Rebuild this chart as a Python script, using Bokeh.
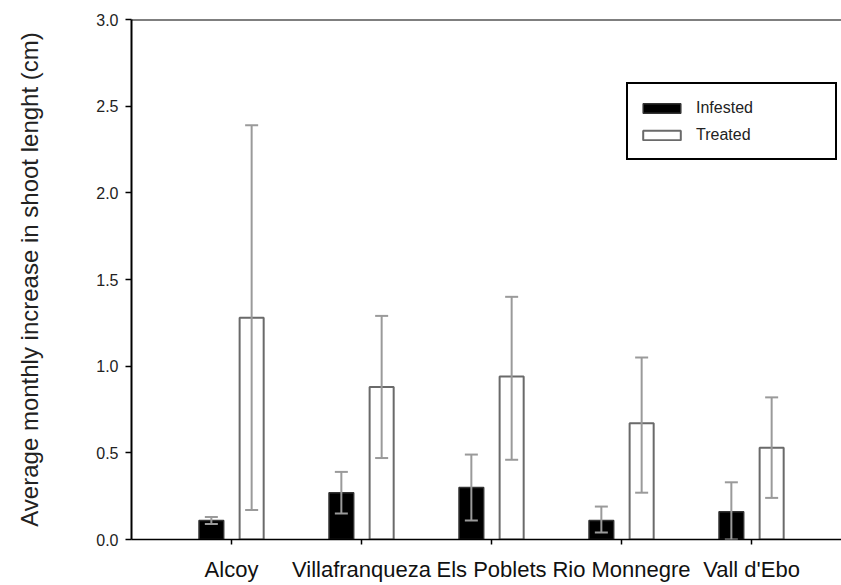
from bokeh.plotting import figure
from bokeh.models import (ColumnDataSource, Whisker, FixedTicker, Span, Legend,
                          LegendItem, TeeHead, Range1d, PrintfTickFormatter)
from bokeh.transform import dodge
from bokeh.embed import file_html
from bokeh.resources import INLINE

# ---- data ----
sites = ["Alcoy", "Villafranqueza", "Els Poblets", "Rio Monnegre", "Vall d'Ebo"]
infested = [0.11, 0.27, 0.30, 0.11, 0.16]
infested_lower = [0.09, 0.15, 0.11, 0.04, 0.00]
infested_upper = [0.13, 0.39, 0.49, 0.19, 0.33]
treated = [1.28, 0.88, 0.94, 0.67, 0.53]
treated_lower = [0.17, 0.47, 0.46, 0.27, 0.24]
treated_upper = [2.39, 1.29, 1.40, 1.05, 0.82]
y_ticks = [0.0, 0.5, 1.0, 1.5, 2.0, 2.5, 3.0]
y_title = "Average monthly increase in shoot lenght (cm)"

xs = list(range(1, len(sites) + 1))
src = ColumnDataSource(dict(x=xs, infested=infested, inf_lo=infested_lower,
                            inf_hi=infested_upper, treated=treated,
                            tr_lo=treated_lower, tr_hi=treated_upper))

FONT = "Liberation Sans"

p = figure(width=841, height=585, x_range=Range1d(0.2308, 5.6923),
           y_range=Range1d(0, 3.0), output_backend="svg", toolbar_location=None,
           min_border_left=131, min_border_right=0, min_border_top=19,
           min_border_bottom=46)
p.outline_line_color = None
p.xgrid.visible = False
p.ygrid.visible = False
p.background_fill_color = "white"
p.border_fill_color = "white"

OFF = 0.155
r1 = p.vbar(x=dodge("x", -OFF, range=p.x_range), top="infested", width=0.19,
            source=src, fill_color="black", line_color="#333333", line_width=1.5)
r2 = p.vbar(x=dodge("x", OFF, range=p.x_range), top="treated", width=0.185,
            source=src, fill_color="white", line_color="#6a6a6a", line_width=2)

EC = "#9a9a9a"
for base, lo, hi in [(-OFF, "inf_lo", "inf_hi"), (OFF, "tr_lo", "tr_hi")]:
    w = Whisker(base=dodge("x", base, range=p.x_range), lower=lo, upper=hi,
                source=src, line_color=EC, line_width=2, level="overlay",
                upper_head=TeeHead(size=13, line_color=EC, line_width=2),
                lower_head=TeeHead(size=13, line_color=EC, line_width=2))
    p.add_layout(w)

p.add_layout(Span(location=3.0, dimension="width", line_color="black", line_width=2))

# y axis
ya = p.yaxis[0]
ya.ticker = FixedTicker(ticks=y_ticks)
ya.formatter = PrintfTickFormatter(format="%.1f")
ya.axis_line_width = 2
ya.axis_line_color = "black"
ya.major_tick_out = 6
ya.major_tick_in = 0
ya.major_tick_line_width = 1.5
ya.minor_tick_line_color = None
ya.major_label_text_font = FONT
ya.major_label_text_font_size = "16px"
ya.major_label_text_color = "#222222"
ya.major_label_standoff = 7
ya.axis_label = y_title
ya.axis_label_text_font = FONT
ya.axis_label_text_font_size = "24px"
ya.axis_label_text_font_style = "normal"
ya.axis_label_text_color = "#222222"
ya.axis_label_standoff = 50

# x axis
xa = p.xaxis[0]
xa.ticker = FixedTicker(ticks=xs)
xa.major_label_overrides = {x: s for x, s in zip(xs, sites)}
xa.axis_line_width = 1.5
xa.axis_line_color = "black"
xa.major_tick_out = 5
xa.major_tick_in = 0
xa.major_tick_line_width = 1.5
xa.minor_tick_line_color = None
xa.major_label_text_font = FONT
xa.major_label_text_font_size = "22px"
xa.major_label_text_color = "#111111"
xa.major_label_standoff = 12

legend = Legend(items=[LegendItem(label="Infested", renderers=[r1]),
                       LegendItem(label="Treated", renderers=[r2])],
                location=(495, 379), border_line_color="black",
                border_line_alpha=1.0, border_line_width=2, padding=10,
                spacing=0, margin=0, glyph_width=47, glyph_height=12,
                label_height=27, label_standoff=11, label_width=129,
                label_text_font=FONT, label_text_font_size="16px",
                label_text_color="#222222",
                background_fill_color="white", background_fill_alpha=1.0)
p.add_layout(legend)

open("out.html", "w").write(file_html(p, INLINE))
